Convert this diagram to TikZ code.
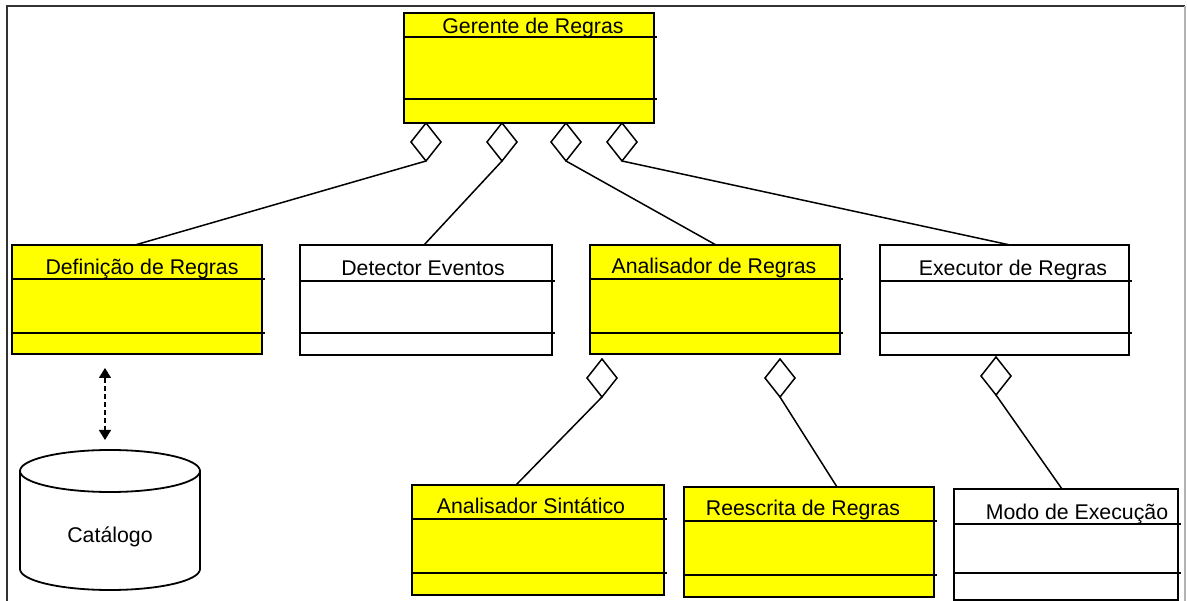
\documentclass[tikz,border=0pt]{standalone}
\usepackage{fontspec}
\setmainfont{Liberation Sans}
\usetikzlibrary{shapes.geometric,arrows.meta}
\definecolor{ylw}{RGB}{255,255,0}
\tikzset{
  umlbox/.style={draw=black, line width=2pt, rectangle, inner sep=0pt, outer sep=0pt},
  boxline/.style={draw=black, line width=2pt},
  lbl/.style={font=\fontsize{21.3}{25}\selectfont, inner sep=0pt, anchor=base, text=black},
  agg/.style={draw=black, line width=1.5pt, fill=white, diamond, inner sep=0pt, outer sep=0pt, minimum width=30pt, minimum height=38pt},
  conn/.style={draw=black, line width=1.5pt},
  dep/.style={draw=black, line width=1.5pt, dash pattern=on 5pt off 3pt, {Triangle[length=10pt,width=12pt]}-{Triangle[length=10pt,width=12pt]}},
}
\newcommand\UMLbox[8]{%
  \pgfmathsetmacro\bw{#4-#2}\pgfmathsetmacro\bh{#5-#3}%
  \node[umlbox, fill=#8, minimum width=\bw pt, minimum height=\bh pt] (#1) at ({(#2+#4)/2},{(#3+#5)/2}) {};
  \draw[boxline] (#2,#6) -- ({#4+3},#6);
  \draw[boxline] (#2,#7) -- ({#4+3},#7);
}
\begin{document}
\begin{tikzpicture}[x=1pt,y=-1pt]
\useasboundingbox (0,0) rectangle (1187,601);
% frame
\draw[black!80, line width=2pt] (7,602) -- (7,6) -- (1185,6);
\draw[gray!60, line width=1.5pt] (1185,6) -- (1185,602);

% boxes
\UMLbox{ger}{404}{13}{654}{123}{37}{99}{ylw}
\UMLbox{def}{12}{245}{262}{354}{279}{333}{ylw}
\UMLbox{det}{300}{245}{552}{355}{281}{333}{white}
\UMLbox{ana}{590}{245}{840}{354}{279}{333}{ylw}
\UMLbox{exe}{880}{245}{1129}{355}{281}{333}{white}
\UMLbox{sin}{412}{485}{664}{595}{519}{573}{ylw}
\UMLbox{ree}{684}{487}{934}{597}{521}{575}{ylw}
\UMLbox{mod}{954}{489}{1178}{600}{524}{573}{white}

% labels
\node[lbl] (gerT) at (533,34) {Gerente de Regras};
\node[lbl] (defT) at (142,275) {Definição de Regras};
\node[lbl] (detT) at (423,276) {Detector Eventos};
\node[lbl] (anaT) at (714,274) {Analisador de Regras};
\node[lbl] (exeT) at (1013,276) {Executor de Regras};
\node[lbl] (sinT) at (531,514) {Analisador Sintático};
\node[lbl] (reeT) at (803,516) {Reescrita de Regras};
\node[lbl] (modT) at (1077,520) {Modo de Execução};

% aggregation diamonds
\node[agg] (d1) at (426,142) {};
\node[agg] (d2) at (502,142) {};
\node[agg] (d3) at (566,142) {};
\node[agg] (d4) at (622,142) {};
\node[agg] (d5) at (602,378) {};
\node[agg] (d6) at (780,378) {};
\node[agg] (d7) at (996,376) {};

% connector end points on box tops
\coordinate (e1) at (135,245);
\coordinate (e2) at (424,245);
\coordinate (e3) at (716,245);
\coordinate (e4) at (1010,245);
\coordinate (e5) at (516,485);
\coordinate (e6) at (837,487);
\coordinate (e7) at (1062,489);
\draw[conn] (d1.south) -- (e1);
\draw[conn] (d2.south) -- (e2);
\draw[conn] (d3.south) -- (e3);
\draw[conn] (d4.south) -- (e4);
\draw[conn] (d5.south) -- (e5);
\draw[conn] (d6.south) -- (e6);
\draw[conn] (d7.south) -- (e7);

% catalogue cylinder
\draw[black, line width=1.8pt, fill=white] (20,471) -- (20,569) arc[start angle=180, end angle=360, x radius=90pt, y radius=21pt] -- (200,471);
\draw[black, line width=1.8pt, fill=white] (110,471) ellipse [x radius=90pt, y radius=21pt];
\node[lbl] (cat) at (110,543) {Catálogo};

% dashed dependency
\coordinate (a1) at (105,368);
\coordinate (a2) at (105,440);
\draw[dep] (a1) -- (a2);
\end{tikzpicture}
\end{document}
